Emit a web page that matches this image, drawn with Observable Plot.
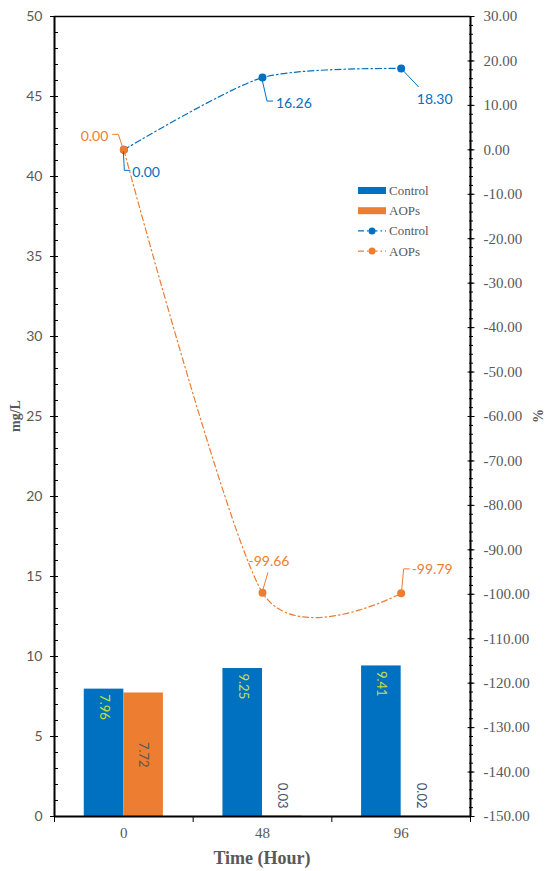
<!DOCTYPE html>
<html><head><meta charset="utf-8">
<script src="https://cdn.jsdelivr.net/npm/d3@7"></script>
<script src="https://cdn.jsdelivr.net/npm/@observablehq/plot@0.6"></script>
<style>body{margin:0;background:#fff}</style>
</head><body><div id="chart"></div>
<script>
// ---- data ----
const times = [0, 48, 96];
const seriesNames = ["Control", "AOPs"];
const controlConc = [7.96, 9.25, 9.41];   // mg/L (bars, left axis)
const aopsConc = [7.72, 0.03, 0.02];
const controlPct = [0.00, 16.26, 18.30];  // % (lines, right axis)
const aopsPct = [0.00, -99.66, -99.79];
const leftTicks = [0, 5, 10, 15, 20, 25, 30, 35, 40, 45, 50];
const rightTicks = [-150, -140, -130, -120, -110, -100, -90, -80, -70, -60, -50, -40, -30, -20, -10, 0, 10, 20, 30];
const timeLabels = ["0", "48", "96"];

// ---- styles ----
const BLUE = "#0070c0", ORANGE = "#ed7d31", GRAY = "#595959";
const SERIF = "'Liberation Serif', 'Times New Roman', serif";
const SANS = "Lato, 'Liberation Sans', sans-serif";
const DASH = "6,3,1.5,3";
const TENSION = 0.25;

// right axis (%) mapped onto left axis (mg/L) domain
const rMin = rightTicks[0], rMax = rightTicks[rightTicks.length - 1];
const lMax = leftTicks[leftTicks.length - 1];
const toLeft = v => (v - rMin) * lMax / (rMax - rMin);
const fromLeft = y => y * (rMax - rMin) / lMax + rMin;

const bars = times.flatMap((t, i) => [
  {t, i, series: "Control", v: controlConc[i]},
  {t, i, series: "AOPs", v: aopsConc[i]}
]);
const pcts = times.flatMap((t, i) => [
  {t, i, series: "Control", v: controlPct[i]},
  {t, i, series: "AOPs", v: aopsPct[i]}
]);
const halfW = 13.7; // bar width in x units (hours)
const step = times[1] - times[0];

const leftMinor = d3.range(0, lMax + 0.001, 1);
const rightMinor = d3.range(rMin, rMax + 0.001, 2).map(toLeft);

const plot = Plot.plot({
  width: 550, height: 871,
  marginTop: 16, marginBottom: 55, marginLeft: 54, marginRight: 80,
  x: {domain: [times[0] - step / 2, times[times.length - 1] + step / 2], axis: null},
  y: {domain: [0, lMax], axis: null},
  color: {domain: seriesNames, range: [BLUE, ORANGE]},
  style: {fontFamily: SERIF, background: "white", overflow: "visible"},
  marks: [
    // bars
    Plot.rectY(bars, {
      x1: d => d.series === "Control" ? d.t - halfW : d.t,
      x2: d => d.series === "Control" ? d.t : d.t + halfW,
      y1: 0, y2: "v", fill: "series"
    }),
    // bar labels
    Plot.text(bars.filter(d => d.series === "Control"), {
      x: d => d.t - halfW / 2, y: "v", text: d => d.v.toFixed(2), rotate: 90,
      textAnchor: "start", dy: 5, fill: "#c8e03a", fontSize: 13, fontFamily: SANS
    }),
    Plot.text(bars.filter(d => d.series === "AOPs" && d.i === 0), {
      x: d => d.t + halfW / 2, y: d => d.v / 2, text: d => d.v.toFixed(2), rotate: 90,
      textAnchor: "middle", fill: GRAY, fontSize: 13, fontFamily: SANS
    }),
    Plot.text(bars.filter(d => d.series === "AOPs" && d.i > 0), {
      x: d => d.t + halfW / 2, y: 0, text: d => d.v.toFixed(2), rotate: 90,
      textAnchor: "end", dy: -8, fill: "#44546a", fontSize: 13, fontFamily: SANS
    }),
    // frame / axis lines
    Plot.ruleY([lMax], {strokeWidth: 1.5}),
    Plot.ruleY([0], {strokeWidth: 2}),
    Plot.ruleX([times[0] - step / 2, times[times.length - 1] + step / 2], {strokeWidth: 2}),
    // left axis
    Plot.axisY({anchor: "left", ticks: leftMinor, tickSize: 4, dx: 4, tickFormat: () => "", label: null}),
    Plot.axisY({anchor: "left", ticks: leftTicks, tickSize: 8, dx: 4, tickFormat: () => "", label: null}),
    Plot.axisY({anchor: "left", ticks: leftTicks, tickSize: 0, tickPadding: 12, label: null,
      color: GRAY, fontSize: 14, fontFamily: SANS}),
    // right axis
    Plot.axisY({anchor: "right", ticks: rightMinor, tickSize: 4, dx: -2, tickFormat: () => "", label: null}),
    Plot.axisY({anchor: "right", ticks: rightTicks.map(toLeft), tickSize: 7, dx: -3.5, tickFormat: () => "", label: null}),
    Plot.axisY({anchor: "right", ticks: rightTicks.map(toLeft), tickSize: 0, tickPadding: 13, label: null,
      tickFormat: y => (Math.round(fromLeft(y) * 100) / 100).toFixed(2),
      color: GRAY, fontSize: 15, fontFamily: SERIF}),
    // x axis
    Plot.axisX({anchor: "bottom", ticks: d3.range(times[0] - step / 2, times[times.length - 1] + step, step),
      tickSize: 6, tickFormat: () => "", label: null}),
    Plot.axisX({anchor: "bottom", ticks: times, tickSize: 0, tickPadding: 11, label: null,
      tickFormat: d => timeLabels[times.indexOf(d)], color: GRAY, fontSize: 15, fontFamily: SERIF}),
    // lines
    Plot.line(pcts.filter(d => d.series === "Control"), {x: "t", y: d => toLeft(d.v), stroke: "series",
      curve: "cardinal", tension: TENSION, strokeDasharray: DASH, strokeWidth: 1.2}),
    Plot.dot(pcts.filter(d => d.series === "Control"), {x: "t", y: d => toLeft(d.v), fill: "series", r: 4}),
    Plot.line(pcts.filter(d => d.series === "AOPs"), {x: "t", y: d => toLeft(d.v), stroke: "series",
      curve: "cardinal", tension: TENSION, strokeDasharray: DASH, strokeWidth: 1.2}),
    Plot.dot(pcts.filter(d => d.series === "AOPs"), {x: "t", y: d => toLeft(d.v), fill: "series", r: 4})
  ]
});

document.getElementById("chart").appendChild(plot);

// ---- annotations (leader lines + value labels), legend, titles ----
const svg = d3.select(plot);
const X = v => plot.scale("x").apply(v);
const Y = v => plot.scale("y").apply(v);

// offsets relative to the point: leader polyline + label anchor
const labelLayout = {
  Control: [
    {pts: [[0, 2], [1, 21], [7, 21]], lx: 9, ly: 22, anchor: "start"},
    {pts: [[0, 2], [5, 24], [11, 24]], lx: 14, ly: 25, anchor: "start"},
    {pts: [[1, 1], [18, 19]], lx: 34, ly: 30, anchor: "middle"}
  ],
  AOPs: [
    {pts: [[-11, -15], [-5, -15], [-1, -3]], lx: -15, ly: -14, anchor: "end"},
    {pts: [[1, -3], [6, -20]], lx: 7, ly: -32, anchor: "middle"},
    {pts: [[1, -3], [3, -24], [9, -24]], lx: 11, ly: -24, anchor: "start"}
  ]
};
const ann = svg.append("g");
pcts.forEach(d => {
  const L = labelLayout[d.series][d.i];
  const px = X(d.t), py = Y(toLeft(d.v));
  const col = d.series === "Control" ? BLUE : ORANGE;
  ann.append("path")
    .attr("d", d3.line()(L.pts.map(([dx, dy]) => [px + dx, py + dy])))
    .attr("fill", "none").attr("stroke", col).attr("stroke-width", 1);
  ann.append("text")
    .attr("x", px + L.lx).attr("y", py + L.ly)
    .attr("dominant-baseline", "central").attr("text-anchor", L.anchor)
    .attr("fill", col).attr("font-family", SANS).attr("font-size", 14)
    .text(d.v.toFixed(2));
});

// legend
const lg = svg.append("g").attr("font-family", SERIF).attr("font-size", 13).attr("fill", GRAY)
  .attr("text-anchor", "start");
const legendRows = [
  {name: "Control", type: "bar", color: BLUE},
  {name: "AOPs", type: "bar", color: ORANGE},
  {name: "Control", type: "line", color: BLUE},
  {name: "AOPs", type: "line", color: ORANGE}
];
legendRows.forEach((r, k) => {
  const y = 190.5 + k * 20.2, x0 = 358, w = 28;
  if (r.type === "bar") {
    lg.append("rect").attr("x", x0).attr("y", y - 3.5).attr("width", w).attr("height", 7).attr("fill", r.color);
  } else {
    lg.append("line").attr("x1", x0).attr("x2", x0 + w).attr("y1", y).attr("y2", y)
      .attr("stroke", r.color).attr("stroke-width", 1.2).attr("stroke-dasharray", DASH);
    lg.append("circle").attr("cx", x0 + w / 2).attr("cy", y).attr("r", 3.5).attr("fill", r.color);
  }
  lg.append("text").attr("x", x0 + w + 3).attr("y", y).attr("text-anchor", "start")
    .attr("dominant-baseline", "central").text(r.name);
});

// axis titles
const tt = svg.append("g").attr("font-family", SERIF).attr("font-weight", "bold").attr("fill", GRAY);
tt.append("text").attr("transform", "translate(15,416) rotate(-90)").attr("text-anchor", "middle")
  .attr("dominant-baseline", "central").attr("font-size", 14).text("mg/L");
tt.append("text").attr("transform", "translate(538,416) rotate(-90)").attr("text-anchor", "middle")
  .attr("dominant-baseline", "central").attr("font-size", 14).text("%");
tt.append("text").attr("x", 262).attr("y", 858).attr("text-anchor", "middle")
  .attr("dominant-baseline", "central").attr("font-size", 18).text("Time (Hour)");
</script>
</body></html>
